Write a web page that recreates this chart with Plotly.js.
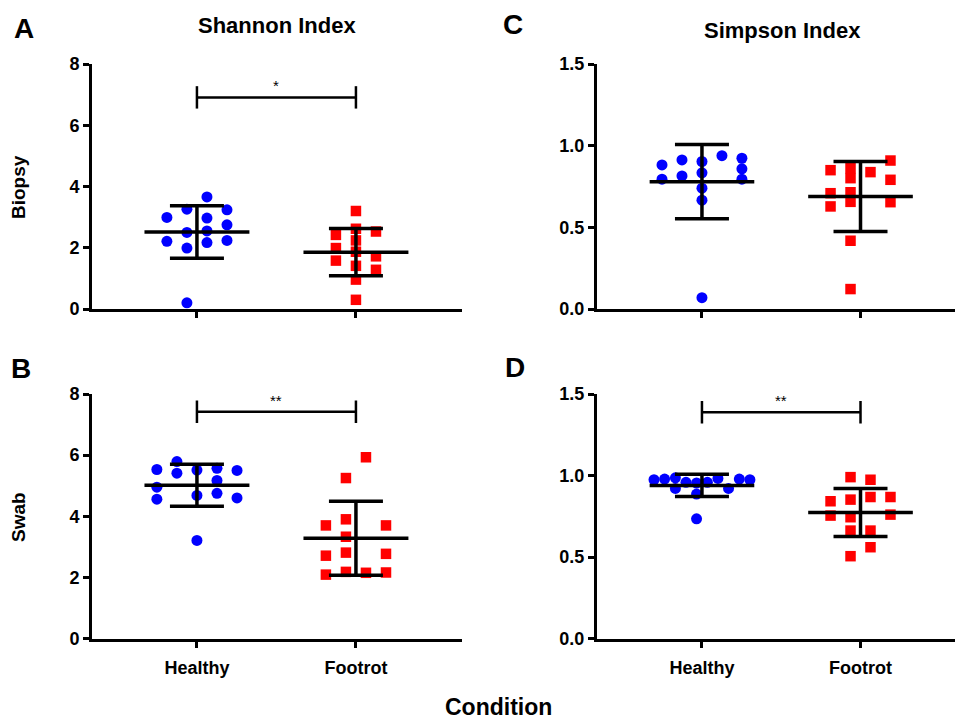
<!DOCTYPE html>
<html>
<head>
<meta charset="utf-8">
<script src="https://cdn.plot.ly/plotly-3.0.1.min.js"></script>
<style>html,body{margin:0;padding:0;background:#fff}#chart{width:957px;height:722px}</style>
</head>
<body>
<div id="chart"></div>
<script>
// ---------- DATA ----------
const categories = ['Healthy', 'Footrot'];

// Panel A: Shannon index, biopsy
const shannonBiopsyHealthy = [2.99, 2.21, 3.26, 2.50, 1.99, 0.20, 3.66, 2.97, 2.55, 2.17, 3.24, 2.75, 2.24];
const shannonBiopsyHealthyCol = [-1.5, -1.5, -0.5, -0.5, -0.5, -0.5, 0.5, 0.5, 0.5, 0.5, 1.5, 1.5, 1.5];
const shannonBiopsyFootrot = [2.42, 1.99, 1.58, 3.20, 2.62, 2.24, 1.87, 1.41, 0.96, 0.30, 2.53, 1.72, 1.28];
const shannonBiopsyFootrotCol = [-1, -1, -1, 0, 0, 0, 0, 0, 0, 0, 1, 1, 1];

// Panel C: Simpson index, biopsy
const simpsonBiopsyHealthy = [0.882, 0.795, 0.913, 0.815, 0.903, 0.834, 0.740, 0.666, 0.069, 0.939, 0.923, 0.858, 0.795];
const simpsonBiopsyHealthyCol = [-2, -2, -1, -1, 0, 0, 0, 0, 0, 1, 2, 2, 2];
const simpsonBiopsyFootrot = [0.850, 0.709, 0.628, 0.862, 0.801, 0.715, 0.656, 0.418, 0.122, 0.838, 0.909, 0.791, 0.654];
const simpsonBiopsyFootrotCol = [-1.5, -1.5, -1.5, -0.5, -0.5, -0.5, -0.5, -0.5, -0.5, 0.5, 1.5, 1.5, 1.5];

// Panel B: Shannon index, swab
const shannonSwabHealthy = [5.53, 4.95, 4.56, 5.79, 5.41, 5.51, 4.68, 3.21, 5.57, 5.17, 4.75, 5.50, 4.60];
const shannonSwabHealthyCol = [-2, -2, -2, -1, -1, 0, 0, 0, 1, 1, 1, 2, 2];
const shannonSwabFootrot = [3.70, 2.71, 2.09, 5.25, 3.90, 3.33, 2.81, 2.18, 5.93, 2.15, 3.70, 2.77, 2.16];
const shannonSwabFootrotCol = [-1.5, -1.5, -1.5, -0.5, -0.5, -0.5, -0.5, -0.5, 0.5, 0.5, 1.5, 1.5, 1.5];

// Panel D: Simpson index, swab
const simpsonSwabHealthy = [0.974, 0.978, 0.986, 0.921, 0.958, 0.954, 0.886, 0.734, 0.958, 0.982, 0.921, 0.978, 0.974];
const simpsonSwabHealthyCol = [-2.4, -1.87, -1.33, -1.33, -0.8, -0.27, -0.27, -0.27, 0.27, 0.8, 1.33, 1.87, 2.4];
const simpsonSwabFootrot = [0.842, 0.754, 0.990, 0.852, 0.744, 0.662, 0.505, 0.974, 0.868, 0.662, 0.560, 0.868, 0.760];
const simpsonSwabFootrotCol = [-1.5, -1.5, -0.5, -0.5, -0.5, -0.5, -0.5, 0.5, 0.5, 0.5, 0.5, 1.5, 1.5];

// significance brackets (A, C, B, D)
const sigLabels = ['*', '', '**', '**'];
const sigHeights = [6.91, null, 7.42, 1.388];

// text
const columnTitles = ['Shannon Index', 'Simpson Index'];
const rowTitles = ['Biopsy', 'Swab'];
const panelLetters = ['A', 'C', 'B', 'D'];
const xTitle = 'Condition';

// ---------- DRAW ----------
const FONT = 'Liberation Sans, Arial, Helvetica, sans-serif';
const W = 957, H = 722;
const COL_STEP = 0.126;     // horizontal spacing of dot columns (category units)
const MEAN_HALF = 0.33;     // half width of the mean line (category units)

function mean(a) { return a.reduce((s, v) => s + v, 0) / a.length; }
function sd(a) { const m = mean(a); return Math.sqrt(a.reduce((s, v) => s + (v - m) * (v - m), 0) / (a.length - 1)); }

const panels = [
  { n: '',  h: shannonBiopsyHealthy, hc: shannonBiopsyHealthyCol, f: shannonBiopsyFootrot, fc: shannonBiopsyFootrotCol },
  { n: '2', h: simpsonBiopsyHealthy, hc: simpsonBiopsyHealthyCol, f: simpsonBiopsyFootrot, fc: simpsonBiopsyFootrotCol },
  { n: '3', h: shannonSwabHealthy,   hc: shannonSwabHealthyCol,   f: shannonSwabFootrot,   fc: shannonSwabFootrotCol },
  { n: '4', h: simpsonSwabHealthy,   hc: simpsonSwabHealthyCol,   f: simpsonSwabFootrot,   fc: simpsonSwabFootrotCol }
];

const traces = [];
panels.forEach((p, i) => {
  const xa = 'x' + p.n, ya = 'y' + p.n;
  const groups = [
    { vals: p.h, cols: p.hc, c: 0, color: '#0000FF', symbol: 'circle' },
    { vals: p.f, cols: p.fc, c: 1, color: '#FF0000', symbol: 'square' }
  ];
  groups.forEach(g => {
    traces.push({
      type: 'scatter', mode: 'markers', xaxis: xa, yaxis: ya, showlegend: false, hoverinfo: 'y',
      x: g.cols.map(k => g.c + k * COL_STEP), y: g.vals,
      marker: { size: g.symbol === 'circle' ? 11 : 10.5, color: g.color, symbol: g.symbol, line: { width: 0 } },
      cliponaxis: false
    });
  });
  groups.forEach(g => {
    const m = mean(g.vals), s = sd(g.vals);
    traces.push({
      type: 'scatter', mode: 'lines', xaxis: xa, yaxis: ya, showlegend: false, hoverinfo: 'skip',
      x: [g.c - MEAN_HALF, g.c + MEAN_HALF], y: [m, m],
      line: { color: '#000', width: 3.5 }
    });
    traces.push({
      type: 'scatter', mode: 'markers', xaxis: xa, yaxis: ya, showlegend: false, hoverinfo: 'skip',
      x: [g.c], y: [m], marker: { size: 1, opacity: 0 },
      error_y: { type: 'data', array: [s], visible: true, color: '#000', thickness: 3.5, width: 27 }
    });
  });
  if (sigLabels[i]) {
    traces.push({
      type: 'scatter', mode: 'lines+markers', xaxis: xa, yaxis: ya, showlegend: false, hoverinfo: 'skip',
      x: [0, 1], y: [sigHeights[i], sigHeights[i]],
      line: { color: '#000', width: 2.5 },
      marker: { symbol: 'line-ns', size: 16, line: { color: '#000', width: 2.5 } }
    });
  }
});

function xAxis(domain, range, showLabels, anchor) {
  return {
    domain: domain, range: range, anchor: anchor,
    tickvals: [0, 1], ticktext: categories, showticklabels: showLabels,
    ticks: 'outside', ticklen: 6, tickwidth: 3, tickcolor: '#000', ticklabelstandoff: 5,
    showline: true, linewidth: 3, linecolor: '#000',
    showgrid: false, zeroline: false, fixedrange: true,
    tickfont: { family: FONT, size: 18, weight: 'bold', color: '#000' }
  };
}
function yAxis(domain, range, dtick, fmt, anchor) {
  return {
    domain: domain, range: range, anchor: anchor, tick0: 0, dtick: dtick, tickformat: fmt,
    ticks: 'outside', ticklen: 6, tickwidth: 3, tickcolor: '#000',
    showline: true, linewidth: 3, linecolor: '#000',
    showgrid: false, zeroline: false, fixedrange: true,
    tickfont: { family: FONT, size: 18, weight: 'bold', color: '#000' }
  };
}

const leftX = [92 / W, 462 / W], rightX = [597 / W, 955 / W];
const topY = [1 - 309 / H, 1 - 64 / H], botY = [1 - 638.5 / H, 1 - 394 / H];
const leftRange = [-0.66, 1.667], rightRange = [-0.662, 1.596];

const annotations = [];
function paperText(text, px, py, size, angle, yanchor) {
  annotations.push({
    xref: 'paper', yref: 'paper', x: px / W, y: 1 - py / H, xanchor: 'center', yanchor: yanchor || 'middle',
    text: text, showarrow: false, textangle: angle || 0, borderpad: 0,
    font: { family: FONT, size: size, weight: 'bold', color: '#000' }
  });
}
paperText(panelLetters[0], 24, 29, 28);
paperText(panelLetters[1], 513, 24, 28);
paperText(panelLetters[2], 21, 368, 28);
paperText(panelLetters[3], 515, 367, 28);
paperText(columnTitles[0], 277, 26, 22);
paperText(columnTitles[1], 782, 30, 22);
paperText(rowTitles[0], 18, 187, 19, -90);
paperText(rowTitles[1], 18, 517, 19, -90);
paperText(xTitle, 498, 721, 23, 0, 'bottom');

panels.forEach((p, i) => {
  if (sigLabels[i]) {
    annotations.push({
      xref: 'x' + p.n, yref: 'y' + p.n, x: 0.5, y: sigHeights[i], xanchor: 'center', yanchor: 'bottom',
      yshift: 1, text: sigLabels[i], showarrow: false,
      font: { family: FONT, size: 15, color: '#000' }
    });
  }
});

const layout = {
  width: W, height: H,
  margin: { l: 0, r: 0, t: 0, b: 0 },
  paper_bgcolor: '#fff', plot_bgcolor: '#fff',
  showlegend: false,
  xaxis:  xAxis(leftX,  leftRange,  false, 'y'),
  yaxis:  yAxis(topY, [0, 8], 2, 'd', 'x'),
  xaxis2: xAxis(rightX, rightRange, false, 'y2'),
  yaxis2: yAxis(topY, [0, 1.5], 0.5, '.1f', 'x2'),
  xaxis3: xAxis(leftX,  leftRange,  true, 'y3'),
  yaxis3: yAxis(botY, [0, 8], 2, 'd', 'x3'),
  xaxis4: xAxis(rightX, rightRange, true, 'y4'),
  yaxis4: yAxis(botY, [0, 1.5], 0.5, '.1f', 'x4'),
  annotations: annotations
};

Plotly.newPlot('chart', traces, layout, { staticPlot: true, displayModeBar: false });
</script>
</body>
</html>
